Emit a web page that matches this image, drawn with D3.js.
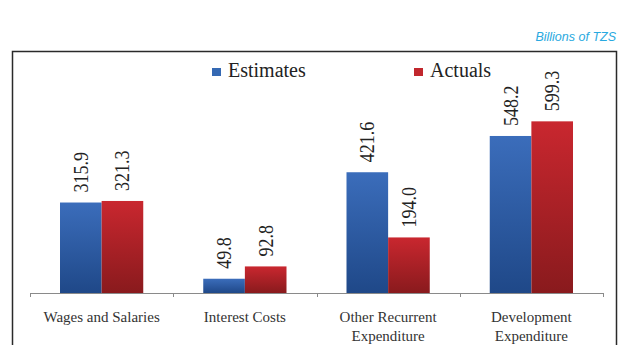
<!DOCTYPE html>
<html>
<head>
<meta charset="utf-8">
<script src="https://cdn.jsdelivr.net/npm/d3@7"></script>
<style>
  body { margin: 0; background: #fff; }
</style>
</head>
<body>
<div id="chart"></div>
<script>
// Data
const categories = [["Wages and Salaries"], ["Interest Costs"], ["Other Recurrent", "Expenditure"], ["Development", "Expenditure"]];
const seriesNames = ["Estimates", "Actuals"];
const estimates = [315.9, 49.8, 421.6, 548.2];
const actuals = [321.3, 92.8, 194.0, 599.3];

const W = 619, H = 345;
const serif = "Liberation Serif, Times New Roman, serif";
const svg = d3.select("#chart").append("svg")
    .attr("width", W)
    .attr("height", H);

// Gradients for bars
const defs = svg.append("defs");
const grads = [
    { id: "gBlue", top: "#3b6dbb", bottom: "#1f4888" },
    { id: "gRed", top: "#c9272f", bottom: "#891a1d" }
];
grads.forEach(g => {
    const lg = defs.append("linearGradient")
        .attr("id", g.id)
        .attr("x1", 0).attr("y1", 0).attr("x2", 0).attr("y2", 1);
    lg.append("stop").attr("offset", "0%").attr("stop-color", g.top);
    lg.append("stop").attr("offset", "100%").attr("stop-color", g.bottom);
});
const fills = ["url(#gBlue)", "url(#gRed)"];
const legendColors = ["#3569b3", "#c1272d"];

// Unit label
svg.append("text")
    .attr("x", 616)
    .attr("y", 41)
    .attr("text-anchor", "end")
    .style("font-family", "Liberation Sans, Arial, sans-serif")
    .style("font-style", "italic")
    .style("font-size", "12.5px")
    .attr("fill", "#29a9e0")
    .text("Billions of TZS");

// Frame
svg.append("path")
    .attr("d", "M12.5,345 L12.5,51.5 L616.5,51.5 L616.5,345")
    .attr("fill", "none")
    .attr("stroke", "#2a2a2a")
    .attr("stroke-width", 1.5);

// Scales
const x0 = d3.scaleBand()
    .domain(d3.range(categories.length))
    .range([30, 603])
    .padding(0);

const x1 = d3.scaleBand()
    .domain(seriesNames)
    .range([30, x0.bandwidth() - 30])
    .padding(0);

const y = d3.scaleLinear()
    .domain([0, 700])
    .range([293, 92.5]);

// Bars
const rows = categories.map((c, i) => ({ i, values: [estimates[i], actuals[i]] }));

const groups = svg.selectAll(".cat")
    .data(rows)
    .enter()
    .append("g")
    .attr("class", "cat")
    .attr("transform", d => `translate(${x0(d.i)},0)`);

groups.selectAll("rect")
    .data(d => d.values.map((v, k) => ({ v, k })))
    .enter()
    .append("rect")
    .attr("x", d => x1(seriesNames[d.k]))
    .attr("y", d => y(d.v))
    .attr("width", x1.bandwidth())
    .attr("height", d => y(0) - y(d.v))
    .attr("fill", d => fills[d.k]);

// Value labels (rotated, slightly condensed like the original)
groups.selectAll(".val")
    .data(d => d.values.map((v, k) => ({ v, k })))
    .enter()
    .append("text")
    .attr("class", "val")
    .attr("transform", d => `translate(${x1(seriesNames[d.k]) + x1.bandwidth() / 2 + 7},${y(d.v) - 10}) rotate(-90) scale(0.9,1)`)
    .style("font-family", serif)
    .style("font-size", "20px")
    .attr("fill", "#222")
    .text(d => d.v.toFixed(1));

// X axis
const axis = svg.append("g");
axis.append("line")
    .attr("x1", 30).attr("x2", 603)
    .attr("y1", 293.5).attr("y2", 293.5)
    .attr("stroke", "#8a8a8a")
    .attr("stroke-width", 1);

const tickPos = d3.range(categories.length).map(i => x0(i)).concat([x0(categories.length - 1) + x0.bandwidth()]);
axis.selectAll(".tick")
    .data(tickPos)
    .enter()
    .append("line")
    .attr("x1", d => Math.round(d) + 0.5).attr("x2", d => Math.round(d) + 0.5)
    .attr("y1", 293).attr("y2", 297)
    .attr("stroke", "#8a8a8a");

// Category labels
categories.forEach((lines, i) => {
    const t = svg.append("text")
        .attr("x", x0(i) + x0.bandwidth() / 2)
        .attr("y", 322)
        .attr("text-anchor", "middle")
        .style("font-family", serif)
        .style("font-size", "15px")
        .attr("fill", "#333");
    lines.forEach((l, j) => {
        t.append("tspan")
            .attr("x", x0(i) + x0.bandwidth() / 2)
            .attr("dy", j === 0 ? 0 : 19)
            .text(l);
    });
});

// Legend
const legend = svg.append("g");
const legendX = [212, 414];
seriesNames.forEach((s, i) => {
    legend.append("rect")
        .attr("x", legendX[i])
        .attr("y", 68)
        .attr("width", 9)
        .attr("height", 8)
        .attr("fill", legendColors[i]);
    legend.append("text")
        .attr("x", legendX[i] + 16)
        .attr("y", 77)
        .style("font-family", serif)
        .style("font-size", "20px")
        .attr("fill", "#222")
        .text(s);
});
</script>
</body>
</html>
